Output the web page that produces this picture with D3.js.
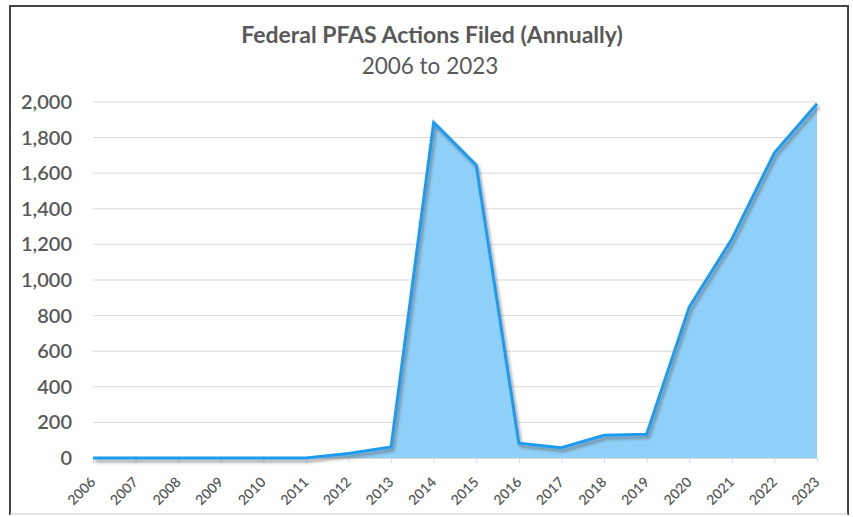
<!DOCTYPE html>
<html><head><meta charset="utf-8">
<script src="https://cdn.jsdelivr.net/npm/d3@7"></script>
<style>
html,body{margin:0;padding:0;background:#fff;}
svg{display:block;}
</style></head>
<body>
<svg id="chart" width="853" height="517"></svg>
<script>
const years = ["2006","2007","2008","2009","2010","2011","2012","2013","2014","2015","2016","2017","2018","2019","2020","2021","2022","2023"];
const actions = [0,0,0,0,0,0,25,62,1885,1645,83,58,128,133,848,1230,1715,1990];
const yTicks = [0,200,400,600,800,1000,1200,1400,1600,1800,2000];
const titleText = "Federal PFAS Actions Filed (Annually)";
const subtitleText = "2006 to 2023";

const svg = d3.select("#chart");
const W = 853, H = 517;
const font = "Lato, 'Open Sans', sans-serif";
const grey = "#595959";

// frame
svg.append("rect").attr("x",0).attr("y",0).attr("width",W).attr("height",H).attr("fill","#fff");
svg.append("line").attr("x1",10).attr("x2",848).attr("y1",6).attr("y2",6).attr("stroke","#444").attr("stroke-width",2);
svg.append("line").attr("x1",10).attr("x2",10).attr("y1",5).attr("y2",515).attr("stroke","#444").attr("stroke-width",2);
svg.append("line").attr("x1",848).attr("x2",848).attr("y1",5).attr("y2",515).attr("stroke","#444").attr("stroke-width",2);
svg.append("line").attr("x1",10).attr("x2",848).attr("y1",514).attr("y2",514).attr("stroke","#ccc").attr("stroke-width",1);

const defs = svg.append("defs");
const f = defs.append("filter").attr("id","shadow").attr("x","-10%").attr("y","-10%").attr("width","130%").attr("height","130%");
f.append("feDropShadow").attr("dx",2).attr("dy",3).attr("stdDeviation",1.8).attr("flood-color","#555").attr("flood-opacity",0.55);

const x = d3.scalePoint().domain(years).range([93,817]);
const y = d3.scaleLinear().domain([0,2000]).range([458,102]);

// gridlines
svg.append("g").selectAll("line").data(yTicks.filter(d=>d>0)).join("line")
  .attr("x1",x(years[0])).attr("x2",x(years[years.length-1]))
  .attr("y1",d=>y(d)).attr("y2",d=>y(d))
  .attr("stroke","#d9d9d9").attr("stroke-width",1);

// y axis labels
const yAxis = d3.axisLeft(y).tickValues(yTicks).tickFormat(d3.format(",")).tickSize(0).tickPadding(0);
const ya = svg.append("g").attr("transform","translate(72,0)").call(yAxis);
ya.select(".domain").remove();
ya.selectAll("text").attr("font-family",font).attr("font-size",20).attr("font-weight",600).attr("fill",grey);

// area
const area = d3.area().x((d,i)=>x(years[i])).y0(y(0)).y1(d=>y(d));
svg.append("path").datum(actions).attr("d",area).attr("fill","#8fd0f8");

// x axis
const xAxis = d3.axisBottom(x).tickSize(5).tickPadding(0);
const xa = svg.append("g").attr("transform",`translate(0,${y(0)})`).call(xAxis);
xa.select(".domain").attr("stroke","#d9d9d9");
xa.selectAll(".tick line").attr("stroke","#d9d9d9");
xa.selectAll("text").attr("font-family",font).attr("font-size",14).attr("font-weight",600).attr("fill",grey)
  .attr("text-anchor","end").attr("y",0).attr("dy",0)
  .attr("transform","translate(3,25) rotate(-45)");

// line
const line = d3.line().x((d,i)=>x(years[i])).y(d=>y(d));
svg.append("path").datum(actions).attr("d",line).attr("fill","none")
  .attr("stroke","#1d9bf0").attr("stroke-width",3).attr("stroke-linejoin","miter")
  .attr("filter","url(#shadow)");

// titles
svg.append("text").attr("x",432).attr("y",43).attr("text-anchor","middle")
  .attr("font-family",font).attr("font-size",23).attr("font-weight",700).attr("fill",grey).text(titleText);
svg.append("text").attr("x",430).attr("y",74).attr("text-anchor","middle")
  .attr("font-family",font).attr("font-size",22.5).attr("fill",grey).text(subtitleText);
</script>
</body></html>
